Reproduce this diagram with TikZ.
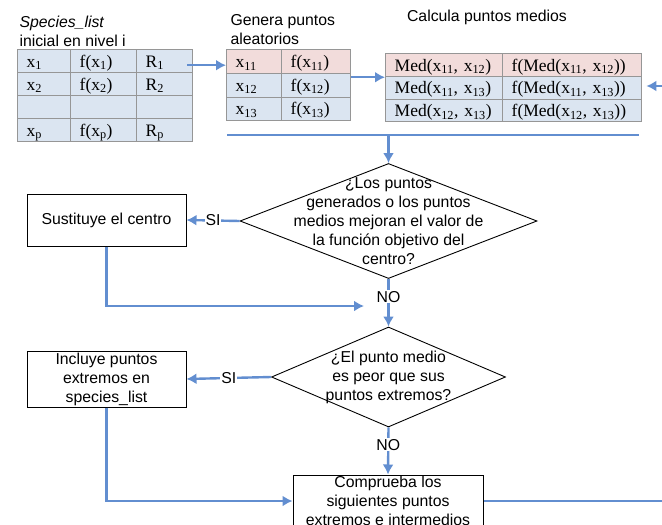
\documentclass[tikz,border=0pt]{standalone}
\usepackage{fontspec}
\setmainfont{Liberation Sans}
\newfontfamily\cellfont{Liberation Serif}
\usetikzlibrary{positioning,calc,matrix,shapes.geometric,arrows.meta}
\definecolor{colorFLOW}{RGB}{98,142,208}
\definecolor{colorHEAD}{RGB}{242,220,219}
\definecolor{colorROW}{RGB}{219,229,241}
\definecolor{colorGRID}{RGB}{150,150,150}
\tikzset{
   every path/.style={>={Latex[length=10pt,width=11pt]}},
   flow/.style={->,color=colorFLOW,line width=2.4pt},
   back/.style={-,color=colorFLOW,line width=2.4pt},
   stepbox/.style={draw,line width=1pt,align=center,inner sep=0pt},
   decision/.style={diamond,draw,line width=0.9pt,inner sep=0pt},
   dtext/.style={align=center},
   answer/.style={fill=white,text=black,inner sep=1pt},
   cell/.style={draw=colorGRID,fill=colorROW,line width=1pt,align=left,inner xsep=9pt,inner ysep=2pt,
      text height=15pt,text depth=3pt,font=\cellfont\fontsize{17.5}{20}\selectfont},
   tab/.style={matrix of nodes,nodes in empty cells,column sep=-1pt,row sep=-1pt,inner sep=0pt,nodes={cell}},
}

\begin{document}
\begin{tikzpicture}[x=1pt,y=-1pt,font=\fontsize{15.8}{19}\selectfont]
      \useasboundingbox (0,0) rectangle (662,525);
      \clip (0,0) rectangle (662,525);
      \node[anchor=west,align=left] (spltitle) at (16,31) {\textit{Species\_list}\\inicial en nivel i};
      \node[anchor=west,align=left] (gentitle) at (227,30) {Genera puntos\\aleatorios};
      \node (medtitle) at (487,17) {Calcula puntos medios};
      \matrix (spl) [tab,anchor=north west,nodes={minimum height=23pt},
         column 1/.style={nodes={text width=35pt}},
         column 2/.style={nodes={text width=48pt}},
         column 3/.style={nodes={text width=38pt}}] at (17,49) {
         x\textsubscript{1} & f(x\textsubscript{1}) & R\textsubscript{1} \\
         x\textsubscript{2} & f(x\textsubscript{2}) & R\textsubscript{2} \\
          & & \\
         x\textsubscript{p} & f(x\textsubscript{p}) & R\textsubscript{p} \\
      };
      \matrix (gen) [tab,anchor=north west,nodes={minimum height=23.7pt},
         row 1/.style={nodes={fill=colorHEAD}},
         column 1/.style={nodes={text width=37pt}},
         column 2/.style={nodes={text width=51pt}}] at (226,49) {
         x\textsubscript{11} & f(x\textsubscript{11}) \\
         x\textsubscript{12} & f(x\textsubscript{12}) \\
         x\textsubscript{13} & f(x\textsubscript{13}) \\
      };
      \matrix (med) [tab,anchor=north west,nodes={minimum height=22.7pt},
         row 1/.style={nodes={fill=colorHEAD}},
         column 1/.style={nodes={text width=99pt}},
         column 2/.style={nodes={text width=121pt}}] at (385,53) {
         Med(x\textsubscript{11}, x\textsubscript{12}) & f(Med(x\textsubscript{11}, x\textsubscript{12})) \\
         Med(x\textsubscript{11}, x\textsubscript{13}) & f(Med(x\textsubscript{11}, x\textsubscript{13})) \\
         Med(x\textsubscript{12}, x\textsubscript{13}) & f(Med(x\textsubscript{12}, x\textsubscript{13})) \\
      };
      \coordinate (a1) at ($(spl-1-3.east)+(-6,4)$);
      \coordinate (a2) at ($(gen.east)+(0,-8)$);
      \coordinate (r2) at (662,86);
      \draw[flow] (a1) -- (a1 -| gen.west);
      \draw[flow] (a2) -- (a2 -| med.west);
      \draw[flow,shorten >=4pt] (r2) -- (r2 -| med.east);
      \coordinate (h1) at (227,135);
      \coordinate (h2) at (639,135);
      \draw[back] (h1) -- (h2);
      \node[decision,minimum width=297pt,minimum height=115pt] (d1) at (388.5,221) {};
      \node[dtext] (d1t) at (d1.center) {¿Los puntos\\generados o los puntos\\medios mejoran el valor de\\la función objetivo del\\centro?};
      \draw[flow] (h1 -| d1.north) -- (d1.north);
      \node[stepbox,minimum width=159pt,minimum height=52pt] (b1) at (106.5,220) {Sustituye el centro};
      \draw[flow] (d1.west) -- node[answer]{SI} (b1.east);
      \coordinate (j1) at (364,306);
      \draw[flow] (b1.south) |- (j1);
      \node[decision,minimum width=234pt,minimum height=100pt] (d2) at (388.5,377) {};
      \node[dtext] (d2t) at (d2.center) {¿El punto medio\\es peor que sus\\puntos extremos?};
      \draw[flow] (d1.south) -- node[answer,pos=0.37]{NO} (d2.north);
      \node[stepbox,minimum width=159pt,minimum height=56pt] (b2) at (106.5,379) {Incluye puntos\\extremos en\\species\_list};
      \draw[flow] (d2.west) -- node[answer]{SI} (b2.east);
      \node[stepbox,minimum width=190pt,minimum height=52pt] (b3) at (388,501) {Comprueba los\\siguientes puntos\\extremos e intermedios};
      \draw[flow] (d2.south) -- node[answer,pos=0.37]{NO} (b3.north);
      \draw[flow] (b2.south) |- (b3.west);
      \coordinate (r1) at (662,501);
      \draw[back] (b3.east) -- (r1);
    \end{tikzpicture}
\end{document}
